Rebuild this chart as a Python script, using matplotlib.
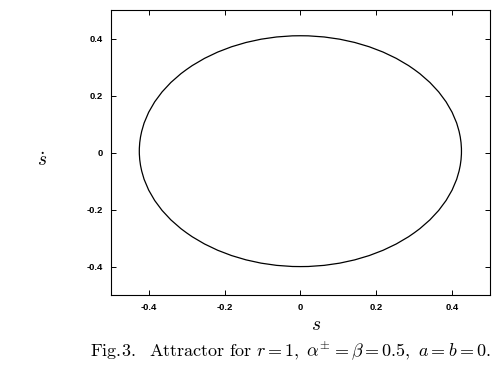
import matplotlib
matplotlib.use("Agg")
import matplotlib.pyplot as plt
from matplotlib.patches import Ellipse

# attractor: centre and half-widths of the closed orbit
s_center = 0.0
sdot_center = 0.005
s_halfwidth = 0.425
sdot_halfwidth = 0.405

xticks = [-0.4, -0.2, 0, 0.2, 0.4]
yticks = [-0.4, -0.2, 0, 0.2, 0.4]
xticklabels = ["-0.4", "-0.2", "0", "0.2", "0.4"]
yticklabels = ["-0.4", "-0.2", "0", "0.2", "0.4"]

plt.rcParams['mathtext.fontset'] = 'cm'

fig = plt.figure(figsize=(5.04, 3.74), dpi=100)
ax = fig.add_axes([0.220, 0.211, 0.752, 0.762])

orbit = Ellipse((s_center, sdot_center), 2 * s_halfwidth, 2 * sdot_halfwidth,
                fill=False, edgecolor='black', linewidth=0.9)
ax.add_patch(orbit)

ax.set_xlim(-0.5, 0.5)
ax.set_ylim(-0.5, 0.5)
ax.set_xticks(xticks)
ax.set_yticks(yticks)
ax.set_xticklabels(xticklabels, fontsize=6.8, fontweight='bold', family='Liberation Sans')
ax.set_yticklabels(yticklabels, fontsize=6.8, fontweight='bold', family='Liberation Sans')
ax.tick_params(direction='in', length=3.5, width=0.7, top=True, right=True, pad=6)
for sp in ax.spines.values():
    sp.set_linewidth(0.8)

fig.text(0.627, 0.133, r'$s$', fontsize=14, ha='center', va='center')
fig.text(0.083, 0.572, r'$\dot{s}$', fontsize=14, ha='center', va='center')
fig.text(0.576, 0.063,
         r'$\mathrm{Fig.\!3.\ \ Attractor\ for\ }r=1,\ \alpha^{\pm}=\beta=0.5,\ a=b=0.$',
         fontsize=13, ha='center', va='center')

fig.savefig("out.png", dpi=100)
